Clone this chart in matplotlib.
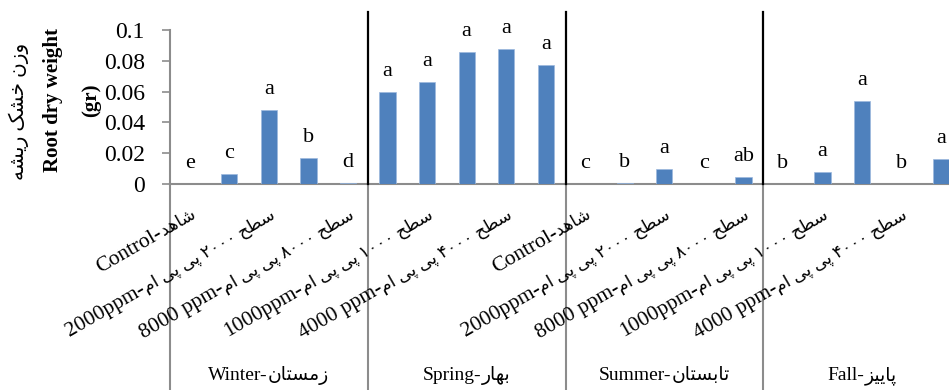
import numpy as np
import matplotlib.pyplot as plt
from matplotlib.transforms import blended_transform_factory

# Data: root dry weight (gr) per season and treatment
seasons = ['Winter-زمستان', 'Spring-بهار', 'Summer-تابستان', 'Fall-پاییز']
treatments = ['Control-شاهد',
              '1000ppm-سطح ۱۰۰۰ پی پی ام',
              '2000ppm-سطح ۲۰۰۰ پی پی ام',
              '4000 ppm-سطح ۴۰۰۰ پی پی ام',
              '8000 ppm-سطح ۸۰۰۰ پی پی ام']
winter = [0.0, 0.0065, 0.048, 0.017, 0.0007]
spring = [0.060, 0.066, 0.086, 0.0875, 0.077]
summer = [0.0, 0.0007, 0.0097, 0.0, 0.0047]
fall = [0.0, 0.0078, 0.0537, 0.0, 0.016]
winter_letters = ['e', 'c', 'a', 'b', 'd']
spring_letters = ['a', 'a', 'a', 'a', 'a']
summer_letters = ['c', 'b', 'a', 'c', 'ab']
fall_letters = ['b', 'a', 'a', 'b', 'a']
yticks = [0, 0.02, 0.04, 0.06, 0.08, 0.1]
ytick_labels = ['0', '0.02', '0.04', '0.06', '0.08', '0.1']
ylabel_fa = 'وزن خشک ریشه'
ylabel_en = 'Root dry weight'
ylabel_unit = '(gr)'

# Minimal Persian shaping: contextual forms (isolated, final, initial, medial)
FORMS = {
    '\u0627': ('\uFE8D', '\uFE8E', None, None),
    '\u0628': ('\uFE8F', '\uFE90', '\uFE91', '\uFE92'),
    '\u067E': ('\uFB56', '\uFB57', '\uFB58', '\uFB59'),
    '\u062A': ('\uFE95', '\uFE96', '\uFE97', '\uFE98'),
    '\u062D': ('\uFEA1', '\uFEA2', '\uFEA3', '\uFEA4'),
    '\u062E': ('\uFEA5', '\uFEA6', '\uFEA7', '\uFEA8'),
    '\u062F': ('\uFEA9', '\uFEAA', None, None),
    '\u0631': ('\uFEAD', '\uFEAE', None, None),
    '\u0632': ('\uFEAF', '\uFEB0', None, None),
    '\u0633': ('\uFEB1', '\uFEB2', '\uFEB3', '\uFEB4'),
    '\u0634': ('\uFEB5', '\uFEB6', '\uFEB7', '\uFEB8'),
    '\u0637': ('\uFEC1', '\uFEC2', '\uFEC3', '\uFEC4'),
    '\u06A9': ('\uFB8E', '\uFB8F', '\uFB90', '\uFB91'),
    '\u0643': ('\uFB8E', '\uFB8F', '\uFB90', '\uFB91'),
    '\u0645': ('\uFEE1', '\uFEE2', '\uFEE3', '\uFEE4'),
    '\u0646': ('\uFEE5', '\uFEE6', '\uFEE7', '\uFEE8'),
    '\u0647': ('\uFEE9', '\uFEEA', '\uFEEB', '\uFEEC'),
    '\u0648': ('\uFEED', '\uFEEE', None, None),
    '\u06CC': ('\uFBFC', '\uFBFD', '\uFBFE', '\uFBFF'),
    '\u064A': ('\uFBFC', '\uFBFD', '\uFBFE', '\uFBFF'),
}


def shape(word):
    out = []
    for i, ch in enumerate(word):
        if ch not in FORMS:
            out.append(ch)
            continue
        iso, fin, ini, med = FORMS[ch]
        prev = i > 0 and word[i - 1] in FORMS and FORMS[word[i - 1]][2] is not None
        nxt = ini is not None and i < len(word) - 1 and word[i + 1] in FORMS
        if prev and nxt:
            out.append(med)
        elif prev:
            out.append(fin)
        elif nxt:
            out.append(ini)
        else:
            out.append(iso)
    return ''.join(out)


def rtl(text):
    words = []
    for w in reversed(text.split(' ')):
        if any(c in FORMS for c in w):
            words.append(shape(w)[::-1])
        else:
            words.append(w)
    return ' '.join(words)


FONT = ['Liberation Serif', 'DejaVu Sans']
BLUE = '#4F81BD'
GRAY = '#8C8C8C'

fig = plt.figure(figsize=(9.49, 3.90), dpi=100)
renderer = fig.canvas.get_renderer()


def width_pt(s, size):
    t = fig.text(0, 0, s, fontsize=size, family=FONT)
    w = t.get_window_extent(renderer=renderer).width * 72 / fig.dpi
    t.remove()
    return w


def mixed(ax, xy, transform, label, angle, lat_size, fa_size, ha='right', off=(0, 0)):
    # latin part left-to-right, persian part right-to-left, laid on one baseline
    latin, fa = label.split('-', 1)
    latin = latin + '-'
    fa = rtl(fa)
    w_lat = width_pt(latin, lat_size)
    w_fa = width_pt(fa, fa_size)
    right = (w_lat + w_fa) / 2 if ha == 'center' else 0
    c, s = np.cos(np.radians(angle)), np.sin(np.radians(angle))
    for txt, size, shift in [(fa, fa_size, right), (latin, lat_size, right - w_fa)]:
        ax.annotate(txt, xy, xycoords=transform,
                    xytext=(off[0] + shift * c, off[1] + shift * s),
                    textcoords='offset points', rotation=angle,
                    rotation_mode='anchor', ha='right', va='baseline',
                    fontsize=size, family=FONT, annotation_clip=False)


values = winter + spring + summer + fall
letters = winter_letters + spring_letters + summer_letters + fall_letters
n_t = len(treatments)
x = np.arange(len(values))

ax = fig.add_axes([170 / 949, 206 / 390, 791 / 949, 154 / 390])

ax.bar(x, values, width=0.41, color=BLUE, edgecolor='#9DB9DD', linewidth=0.5, zorder=3)
for xi, v, s in zip(x, values, letters):
    ax.annotate(s, (xi, v), xytext=(0, 11.5), textcoords='offset points',
                ha='center', va='baseline', fontsize=16, family=FONT)

ax.set_xlim(-0.5, len(values) - 0.5)
ax.set_ylim(0, 0.1)
ax.set_yticks(yticks)
ax.set_yticklabels(ytick_labels, fontsize=17, family=FONT)
ax.tick_params(axis='y', direction='out', length=6, width=1.2, color=GRAY, pad=12)
ax.set_xticks([])

for side in ['top', 'right']:
    ax.spines[side].set_visible(False)
for side in ['left', 'bottom']:
    ax.spines[side].set_color(GRAY)
    ax.spines[side].set_linewidth(1.5)

# every second treatment label, rotated under the bars
cats = [t for s in seasons for t in treatments]
for xi in x[::2]:
    mixed(ax, (xi, 0), ax.transData, cats[xi], 30, 15.5, 12.5, off=(5, -24))

# black separators between seasons inside the plot
for b in np.arange(n_t, len(values), n_t) - 0.5:
    ax.plot([b, b], [0, 0.1115], color='black', lw=1.6, clip_on=False, zorder=4)

# gray dividers and season names in the category band
tr = blended_transform_factory(ax.transData, fig.transFigure)
for b in np.arange(0, len(values) + 1, n_t) - 0.5:
    ax.plot([b, b], [206 / 390, 0], color=GRAY, lw=1.5, transform=tr, clip_on=False)
for i, s in enumerate(seasons):
    mixed(ax, (i * n_t + (n_t - 1) / 2, 10 / 390), tr, s, 0, 14, 13.5, ha='center')

# three-line vertical axis title
fig.text(19 / 949, 279 / 390, rtl(ylabel_fa), rotation=90, ha='center', va='center',
         fontsize=14.5, family=FONT)
fig.text(53 / 949, 290 / 390, ylabel_en, rotation=90, ha='center', va='center',
         fontsize=15, fontweight='bold', family=FONT)
fig.text(91 / 949, 290 / 390, ylabel_unit, rotation=90, ha='center', va='center',
         fontsize=15, fontweight='bold', family=FONT)

fig.savefig('out.png', dpi=100)
